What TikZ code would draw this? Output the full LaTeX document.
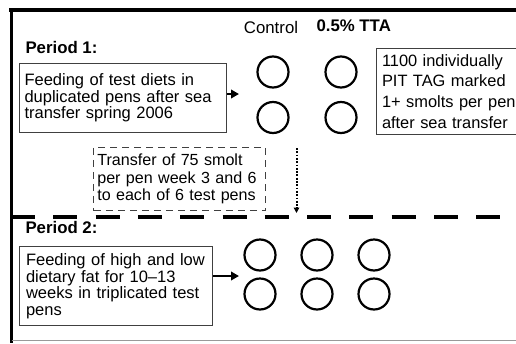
\documentclass[tikz,border=0pt]{standalone}
\usepackage{fontspec}
\setmainfont{Liberation Sans}
\usetikzlibrary{arrows.meta}

\begin{document}
\begin{tikzpicture}[x=1pt, y=-1pt,
  font=\fontsize{16.5}{16.5}\selectfont,
  textbox/.style={draw=black!75, line width=1pt, align=left, inner xsep=5pt,
    anchor=north west},
  pen/.style={circle, draw=black, line width=2.2pt, minimum size=31pt, inner sep=0pt},
  heading/.style={anchor=base west, font=\fontsize{16.8}{16.5}\selectfont\bfseries},
  arrow/.style={-{Triangle[length=8pt,width=8.5pt]}, line width=2.7pt},
  dottedarrow/.style={-{Triangle[length=5.5pt,width=5.5pt]}, line width=2pt,
    dash pattern=on 1.8pt off 1.5pt}
]
  \useasboundingbox (0,0) rectangle (516,343);
  \draw[line width=3.4pt] (9,10) -- (516,10);
  \draw[line width=3.4pt] (11.5,8.3) -- (11.5,343);
  \draw[black!40, line width=1.2pt] (11.5,340.5) -- (516,340.5);
  \draw[line width=4.5pt, dash pattern=on 24pt off 18.3pt] (11,217) -- (500.3,217);

  \node[heading] (period1) at (22,53) {Period 1:};
  \node[anchor=base, font=\fontsize{16.8}{16.5}\selectfont] (control) at (271,33.3) {Control};
  \node[heading, anchor=base] (tta) at (353.7,31.7) {0.5\% TTA};

  \node[textbox, text width=197pt, minimum height=69pt] (diets) at (19,63)
    {Feeding of test diets in\\duplicated pens after sea\\transfer spring 2006};
  \coordinate (dietsin) at (239,94);
  \draw[arrow] (diets.east |- dietsin) -- (dietsin);

  \node[pen] (ctrla) at (273,72) {};
  \node[pen] (ttaa) at (341,72) {};
  \node[pen] (ctrlb) at (273,117.5) {};
  \node[pen] (ttab) at (341,117.5) {};

  \node[textbox, inner xsep=5.5pt, text width=150pt, minimum height=86.3pt,
    font=\fontsize{16.4}{20.7}\selectfont] (pit) at (376,47.7)
    {1100 individually\\PIT TAG marked\\1+ smolts per pen\\after sea transfer};

  \node[textbox, dash pattern=on 7pt off 5pt, text width=165pt, minimum height=63.3pt,
    inner xsep=3.5pt, font=\fontsize{16.1}{17.5}\selectfont] (move) at (93.3,146.7)
    {Transfer of 75 smolt\\per pen week 3 and 6\\to each of 6 test pens};
  \coordinate (movetop) at (296.5,148);
  \coordinate (movebot) at (296.5,213);
  \draw[dottedarrow] (movetop) -- (movebot);

  \node[heading] (period2) at (22,233) {Period 2:};
  \node[textbox, inner xsep=6.5pt, text width=180pt, minimum height=79pt] (fat) at (19,246)
    {Feeding of high and low\\dietary fat for 10–13\\weeks in triplicated test\\pens};
  \coordinate (fatin) at (239,276);
  \draw[arrow] (fat.east |- fatin) -- (fatin);

  \node[pen] (higha) at (260,255) {};
  \node[pen] (midla) at (317,255) {};
  \node[pen] (lowa) at (374,255) {};
  \node[pen] (highb) at (260,294) {};
  \node[pen] (midlb) at (317,294) {};
  \node[pen] (lowb) at (374,294) {};
\end{tikzpicture}
\end{document}
